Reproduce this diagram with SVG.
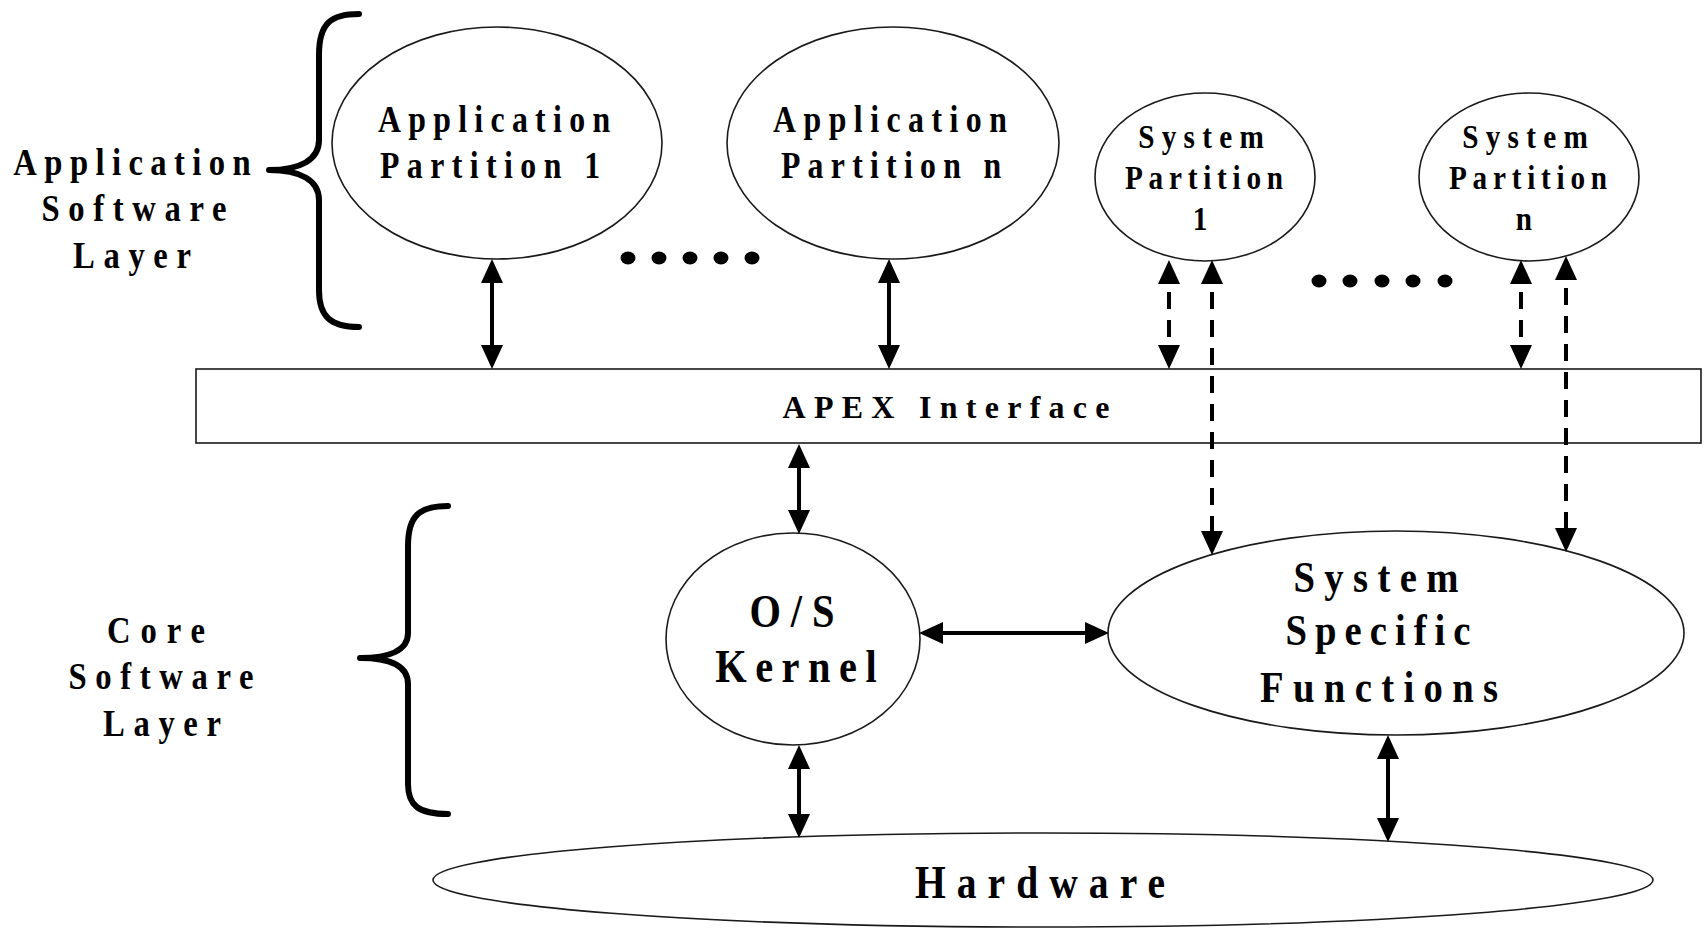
<svg xmlns="http://www.w3.org/2000/svg" width="1706" height="928" viewBox="0 0 1706 928">
  <defs>
    <style>
      .bg { fill: #ffffff; }
      .shape { fill: #ffffff; stroke: #1a1a1a; stroke-width: 1.6; }
      .brace { fill: none; stroke: #000000; stroke-width: 6; stroke-linecap: round; stroke-linejoin: round; }
      .link { fill: none; stroke: #000000; stroke-width: 4; }
      .dash { stroke-dasharray: 17 11; }
      .dot { fill: #000000; }
      .lbl { font-family: "Liberation Serif", "Times New Roman", serif; font-weight: bold; fill: #000000; text-anchor: middle; }
    </style>
    <marker id="head" viewBox="0 0 24 22" markerWidth="24" markerHeight="22" refX="20" refY="11" orient="auto-start-reverse" markerUnits="userSpaceOnUse">
      <path d="M0,0 L24,11 L0,22 z" fill="#000000"/>
    </marker>
  </defs>

  <rect class="bg" x="0" y="0" width="1706" height="928"/>

  <!-- layer braces and captions -->
  <g id="app-layer">
    <path class="brace" d="M359,14 C330,14 319,24 319,55 L319,140 C319,160 300,170 269,170 C300,170 319,180 319,200 L319,290 C319,316 330,327 359,327"/>
    <text class="lbl" font-size="38" transform="translate(132,175) scale(0.86,1)" textLength="276" lengthAdjust="spacing">Application</text>
    <text class="lbl" font-size="38" transform="translate(134,221) scale(0.86,1)" textLength="215" lengthAdjust="spacing">Software</text>
    <text class="lbl" font-size="38" transform="translate(132,268) scale(0.86,1)" textLength="137" lengthAdjust="spacing">Layer</text>
  </g>

  <g id="core-layer">
    <path class="brace" d="M448,506 C419,506 408,516 408,546 L408,633 C408,650 390,658 360,658 C390,658 408,666 408,684 L408,784 C408,806 419,814 448,814"/>
    <text class="lbl" font-size="38" transform="translate(156,643) scale(0.86,1)" textLength="114" lengthAdjust="spacing">Core</text>
    <text class="lbl" font-size="38" transform="translate(161,689) scale(0.86,1)" textLength="215" lengthAdjust="spacing">Software</text>
    <text class="lbl" font-size="38" transform="translate(162,736) scale(0.86,1)" textLength="137" lengthAdjust="spacing">Layer</text>
  </g>

  <!-- partitions -->
  <g id="app-partition-1">
    <ellipse class="shape" cx="497" cy="143" rx="165" ry="116"/>
    <text class="lbl" font-size="37" transform="translate(494,132) scale(0.86,1)" textLength="270" lengthAdjust="spacing">Application</text>
    <text class="lbl" font-size="37" transform="translate(490,178) scale(0.86,1)" textLength="256" lengthAdjust="spacing">Partition 1</text>
  </g>

  <g id="app-partition-n">
    <ellipse class="shape" cx="893" cy="143" rx="166" ry="116"/>
    <text class="lbl" font-size="37" transform="translate(890,132) scale(0.86,1)" textLength="272" lengthAdjust="spacing">Application</text>
    <text class="lbl" font-size="37" transform="translate(891,178) scale(0.86,1)" textLength="256" lengthAdjust="spacing">Partition n</text>
  </g>

  <g id="sys-partition-1">
    <ellipse class="shape" cx="1205" cy="177" rx="110" ry="84"/>
    <text class="lbl" font-size="34" transform="translate(1201,148) scale(0.86,1)" textLength="146" lengthAdjust="spacing">System</text>
    <text class="lbl" font-size="34" transform="translate(1204,189) scale(0.86,1)" textLength="184" lengthAdjust="spacing">Partition</text>
    <text class="lbl" font-size="34" transform="translate(1200,230) scale(0.86,1)">1</text>
  </g>

  <g id="sys-partition-n">
    <ellipse class="shape" cx="1529" cy="177" rx="110" ry="84"/>
    <text class="lbl" font-size="34" transform="translate(1525,148) scale(0.86,1)" textLength="146" lengthAdjust="spacing">System</text>
    <text class="lbl" font-size="34" transform="translate(1528,189) scale(0.86,1)" textLength="184" lengthAdjust="spacing">Partition</text>
    <text class="lbl" font-size="34" transform="translate(1524,230) scale(0.86,1)">n</text>
  </g>

  <!-- ellipsis dots between partitions -->
  <g id="more-app-partitions">
    <ellipse class="dot" cx="628" cy="258" rx="7.5" ry="6.5"/>
    <ellipse class="dot" cx="659" cy="258" rx="7.5" ry="6.5"/>
    <ellipse class="dot" cx="690" cy="258" rx="7.5" ry="6.5"/>
    <ellipse class="dot" cx="721" cy="258" rx="7.5" ry="6.5"/>
    <ellipse class="dot" cx="752" cy="258" rx="7.5" ry="6.5"/>
  </g>
  <g id="more-sys-partitions">
    <ellipse class="dot" cx="1319" cy="281" rx="7.5" ry="6.5"/>
    <ellipse class="dot" cx="1350" cy="281" rx="7.5" ry="6.5"/>
    <ellipse class="dot" cx="1382" cy="281" rx="7.5" ry="6.5"/>
    <ellipse class="dot" cx="1413" cy="281" rx="7.5" ry="6.5"/>
    <ellipse class="dot" cx="1445" cy="281" rx="7.5" ry="6.5"/>
  </g>

  <g id="apex">
    <rect class="shape" x="196" y="369" width="1505" height="74"/>
    <text class="lbl" font-size="32" x="946" y="418" textLength="327" lengthAdjust="spacing">APEX Interface</text>
  </g>

  <g id="os-kernel">
    <ellipse class="shape" cx="793" cy="639" rx="127" ry="106"/>
    <text class="lbl" font-size="47" transform="translate(792,627) scale(0.86,1)" textLength="99" lengthAdjust="spacing">O/S</text>
    <text class="lbl" font-size="47" transform="translate(796,682) scale(0.86,1)" textLength="188" lengthAdjust="spacing">Kernel</text>
  </g>

  <g id="system-specific-functions">
    <ellipse class="shape" cx="1396" cy="633" rx="288" ry="102"/>
    <text class="lbl" font-size="45" transform="translate(1376,592) scale(0.86,1)" textLength="192" lengthAdjust="spacing">System</text>
    <text class="lbl" font-size="45" transform="translate(1378,645) scale(0.86,1)" textLength="215" lengthAdjust="spacing">Specific</text>
    <text class="lbl" font-size="45" transform="translate(1379,702) scale(0.86,1)" textLength="277" lengthAdjust="spacing">Functions</text>
  </g>

  <g id="hardware">
    <ellipse class="shape" cx="1043" cy="880" rx="610" ry="47"/>
    <text class="lbl" font-size="46" transform="translate(1040,898) scale(0.86,1)" textLength="291" lengthAdjust="spacing">Hardware</text>
  </g>

  <!-- connectors: all double-headed -->
  <g id="connectors">
    <line class="link" x1="492" y1="263" x2="492" y2="365" marker-start="url(#head)" marker-end="url(#head)"/>
    <line class="link" x1="889" y1="263" x2="889" y2="365" marker-start="url(#head)" marker-end="url(#head)"/>
    <line class="link dash" x1="1169" y1="264" x2="1169" y2="365" marker-start="url(#head)" marker-end="url(#head)"/>
    <line class="link dash" x1="1212" y1="264" x2="1212" y2="551" marker-start="url(#head)" marker-end="url(#head)"/>
    <line class="link dash" x1="1521" y1="264" x2="1521" y2="365" marker-start="url(#head)" marker-end="url(#head)"/>
    <line class="link dash" x1="1566" y1="260" x2="1566" y2="548" marker-start="url(#head)" marker-end="url(#head)"/>
    <line class="link" x1="799" y1="448" x2="799" y2="530" marker-start="url(#head)" marker-end="url(#head)"/>
    <line class="link" x1="923" y1="633" x2="1105" y2="633" marker-start="url(#head)" marker-end="url(#head)"/>
    <line class="link" x1="799" y1="749" x2="799" y2="834" marker-start="url(#head)" marker-end="url(#head)"/>
    <line class="link" x1="1388" y1="739" x2="1388" y2="838" marker-start="url(#head)" marker-end="url(#head)"/>
  </g>
</svg>
